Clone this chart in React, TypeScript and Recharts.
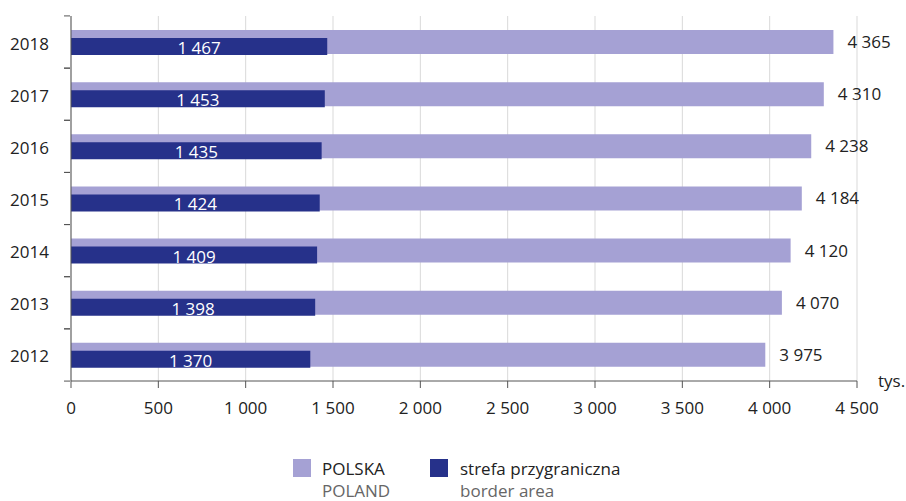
import React from "react";
import {
  BarChart,
  Bar,
  XAxis,
  YAxis,
  CartesianGrid,
  LabelList,
  Rectangle,
} from "recharts";

const years = ["2018", "2017", "2016", "2015", "2014", "2013", "2012"];
const polska = [4365, 4310, 4238, 4184, 4120, 4070, 3975];
const border = [1467, 1453, 1435, 1424, 1409, 1398, 1370];
const xTicks = [0, 500, 1000, 1500, 2000, 2500, 3000, 3500, 4000, 4500];

const data = years.map((year, i) => ({
  year,
  polska: polska[i],
  border: border[i],
}));

const FONT = "'Open Sans', 'Noto Sans', sans-serif";
const LIGHT = "#a5a1d4";
const DARK = "#26318a";
const AXIS = "#555555";

const fmt = (v: number) => String(v).replace(/\B(?=(\d{3})+(?!\d))/g, " ");

// year label plus the small ticks between categories
const YearTick = (props: any) => {
  const { x, y, payload } = props;
  const half = 52.3 / 2;
  return (
    <g>
      <line x1={x + 1} x2={x + 7} y1={y - half} y2={y - half} stroke={AXIS} />
      <line x1={x + 1} x2={x + 7} y1={y + half} y2={y + half} stroke={AXIS} />
      <text
        x={x - 14}
        y={y + 1}
        textAnchor="end"
        dominantBaseline="central"
        fontSize={17}
        fontFamily={FONT}
        fill="#222"
      >
        {payload.value}
      </text>
    </g>
  );
};

// dark bar sits at the bottom of the light bar
const DarkBar = (props: any) => {
  const { x, y, width, height } = props;
  return <Rectangle x={x} y={y + 4} width={width} height={height} fill={DARK} />;
};

const DarkLabel = (props: any) => {
  const { x, y, width, height, value } = props;
  return (
    <text
      x={x + width / 2}
      y={y + 4 + height / 2 + 1}
      textAnchor="middle"
      dominantBaseline="central"
      fontSize={17}
      fontFamily={FONT}
      fill="#fff"
    >
      {fmt(value)}
    </text>
  );
};

const App = () => {
  return (
    <div
      style={{
        position: "absolute",
        left: 0,
        top: 0,
        width: 906,
        height: 501,
        background: "#fff",
        fontFamily: FONT,
      }}
    >
      <BarChart
        width={906}
        height={430}
        data={data}
        layout="vertical"
        margin={{ top: 16, right: 49, bottom: 9, left: 0 }}
      >
        <CartesianGrid horizontal={false} stroke="#d9d9d9" />
        <XAxis
          type="number"
          domain={[0, 4500]}
          ticks={xTicks}
          tickFormatter={fmt}
          stroke={AXIS}
          tickSize={7}
          tickMargin={14}
          tick={{ fill: "#222", fontSize: 17, fontFamily: FONT }}
          height={40}
        />
        <YAxis
          yAxisId="a"
          type="category"
          dataKey="year"
          width={71}
          stroke={AXIS}
          tickLine={false}
          tick={<YearTick />}
        />
        <YAxis yAxisId="b" type="category" dataKey="year" hide />
        <Bar
          yAxisId="a"
          dataKey="polska"
          fill={LIGHT}
          barSize={24}
          isAnimationActive={false}
        >
          <LabelList
            dataKey="polska"
            position="right"
            offset={14}
            formatter={(v: any) => fmt(v)}
            style={{ fill: "#222", fontSize: 17, fontFamily: FONT }}
          />
        </Bar>
        <Bar
          yAxisId="b"
          dataKey="border"
          fill={DARK}
          barSize={17}
          shape={<DarkBar />}
          isAnimationActive={false}
        >
          <LabelList dataKey="border" content={<DarkLabel />} />
        </Bar>
      </BarChart>

      <div
        style={{
          position: "absolute",
          left: 878,
          top: 371,
          fontSize: 17,
          color: "#222",
          lineHeight: "20px",
        }}
      >
        tys.
      </div>

      {/* legend */}
      <div style={{ position: "absolute", left: 293, top: 459, width: 18, height: 18, background: LIGHT }} />
      <div style={{ position: "absolute", left: 322, top: 458, fontSize: 17, lineHeight: "22px", color: "#222" }}>
        POLSKA
        <div style={{ color: "#666" }}>POLAND</div>
      </div>
      <div style={{ position: "absolute", left: 430, top: 459, width: 18, height: 18, background: DARK }} />
      <div style={{ position: "absolute", left: 460, top: 458, fontSize: 17, lineHeight: "22px", color: "#222" }}>
        strefa przygraniczna
        <div style={{ color: "#666" }}>border area</div>
      </div>
    </div>
  );
};

export default App;
